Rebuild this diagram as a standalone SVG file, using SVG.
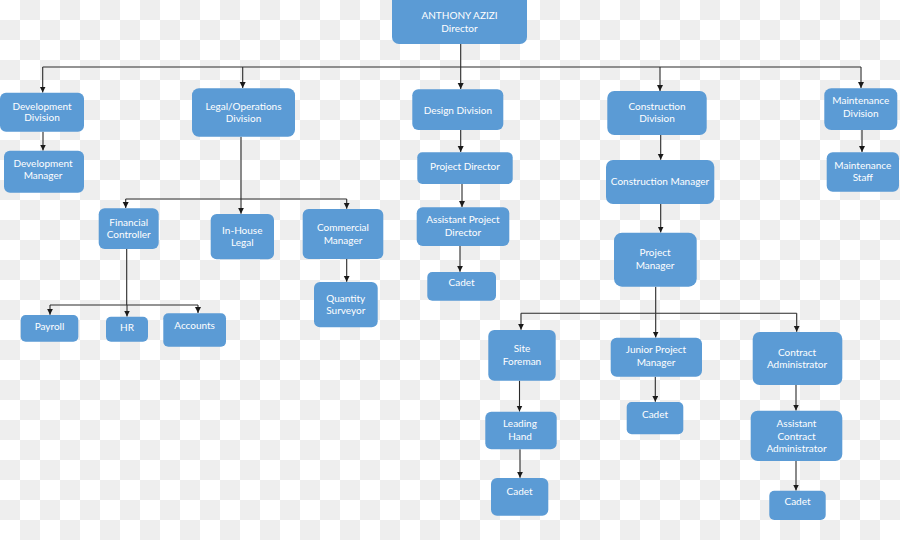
<svg xmlns="http://www.w3.org/2000/svg" width="900" height="540" viewBox="0 0 900 540">
<defs>
<pattern id="chk" width="40" height="40" patternUnits="userSpaceOnUse">
<rect width="40" height="40" fill="#ffffff"/>
<rect x="20" y="0" width="20" height="20" fill="#eeeeee"/>
<rect x="0" y="20" width="20" height="20" fill="#eeeeee"/>
</pattern>
<marker id="ah" markerUnits="userSpaceOnUse" markerWidth="7" markerHeight="7" refX="6" refY="3" orient="auto">
<path d="M0,0 L6,3 L0,6 z" fill="#1a1a1a"/>
</marker>
<style>
.b{fill:#5b9bd5;}
.t{fill:#ffffff;font-family:Lato,"Liberation Sans",sans-serif;font-size:10px;text-anchor:middle;}
.l{fill:none;stroke:#2a2a2a;stroke-width:1.1;}
.a{fill:none;stroke:#2a2a2a;stroke-width:1.1;marker-end:url(#ah);}
</style>
</defs>
<rect width="900" height="540" fill="url(#chk)"/>
<g id="connectors">
<path class="l" d="M42.7 67 H861"/>
<path class="a" d="M460.7 44 V89"/>
<path class="a" d="M42.7 67 V92.5"/>
<path class="a" d="M242.7 67 V88"/>
<path class="a" d="M660 67 V91"/>
<path class="a" d="M861 67 V88"/>
<path class="a" d="M43 131.7 V150.5"/>
<path class="l" d="M241 136.7 V199 M125.7 199 H346.7"/>
<path class="a" d="M125.7 199 V208"/>
<path class="a" d="M241 199 V213.8"/>
<path class="a" d="M346.7 199 V208.8"/>
<path class="a" d="M346.7 259 V281.8"/>
<path class="l" d="M126.7 249 V305 M50 305 H198"/>
<path class="a" d="M50 305 V314.8"/>
<path class="a" d="M127 305 V316.5"/>
<path class="a" d="M198 305 V313"/>
<path class="a" d="M460.7 130 V152"/>
<path class="a" d="M462 184 V207"/>
<path class="a" d="M460 246 V271.8"/>
<path class="a" d="M660.7 135 V159.8"/>
<path class="a" d="M660.7 204 V232.5"/>
<path class="l" d="M655.7 286.7 V313.3 M521 313.3 H796.7"/>
<path class="a" d="M521 313.3 V329.8"/>
<path class="a" d="M655.7 313.3 V337.5"/>
<path class="a" d="M796.7 313.3 V331.8"/>
<path class="a" d="M519.5 380.7 V411.5"/>
<path class="a" d="M520 449.3 V477.8"/>
<path class="a" d="M655.3 376.7 V401.8"/>
<path class="a" d="M796 385 V410.5"/>
<path class="a" d="M796 461 V490.5"/>
<path class="a" d="M862 130 V152"/>
</g>
<g id="director"><rect class="b" x="392" y="-6" width="135" height="50" rx="7"/><text class="t" x="459.5" y="19.1">ANTHONY AZIZI</text><text class="t" x="459.5" y="31.5">Director</text></g>
<g id="development-division"><rect class="b" x="0" y="92.7" width="84" height="39" rx="6"/><text class="t" x="42" y="109.5">Development</text><text class="t" x="42" y="121.2">Division</text></g>
<g id="development-manager"><rect class="b" x="4" y="150.7" width="80" height="42" rx="6"/><text class="t" x="43" y="166.5">Development</text><text class="t" x="43" y="178.5">Manager</text></g>
<g id="legal-operations-division"><rect class="b" x="192" y="88.3" width="103" height="48.4" rx="7"/><text class="t" x="243.5" y="109.5">Legal/Operations</text><text class="t" x="243.5" y="122.2">Division</text></g>
<g id="financial-controller"><rect class="b" x="98.7" y="208.3" width="60" height="40.7" rx="6"/><text class="t" x="128.7" y="225.5">Financial</text><text class="t" x="128.7" y="237.8">Controller</text></g>
<g id="in-house-legal"><rect class="b" x="210.7" y="214" width="63.3" height="45.3" rx="6"/><text class="t" x="242.3" y="233.5">In-House</text><text class="t" x="242.3" y="246.2">Legal</text></g>
<g id="commercial-manager"><rect class="b" x="302.7" y="209" width="80.6" height="50" rx="6"/><text class="t" x="343" y="231.2">Commercial</text><text class="t" x="343" y="243.5">Manager</text></g>
<g id="quantity-surveyor"><rect class="b" x="314" y="282" width="63.7" height="45.3" rx="6"/><text class="t" x="345.8" y="301.8">Quantity</text><text class="t" x="345.8" y="314.2">Surveyor</text></g>
<g id="payroll"><rect class="b" x="20.7" y="315" width="57.6" height="26.7" rx="5"/><text class="t" x="49.5" y="329.5">Payroll</text></g>
<g id="hr"><rect class="b" x="106" y="316.7" width="42" height="25" rx="5"/><text class="t" x="127" y="330.8">HR</text></g>
<g id="accounts"><rect class="b" x="163.3" y="313.3" width="62.7" height="33.4" rx="5"/><text class="t" x="194.6" y="329.2">Accounts</text></g>
<g id="design-division"><rect class="b" x="412.3" y="89.3" width="91" height="40.7" rx="6"/><text class="t" x="457.8" y="113.5">Design Division</text></g>
<g id="project-director"><rect class="b" x="417.3" y="152.3" width="95.4" height="31.7" rx="5"/><text class="t" x="465" y="170.2">Project Director</text></g>
<g id="assistant-project-director"><rect class="b" x="416.7" y="207.3" width="92.6" height="38.7" rx="6"/><text class="t" x="463" y="222.8">Assistant Project</text><text class="t" x="463" y="235.5">Director</text></g>
<g id="design-cadet"><rect class="b" x="427.3" y="272" width="68.7" height="28.7" rx="5"/><text class="t" x="461.6" y="286.2">Cadet</text></g>
<g id="construction-division"><rect class="b" x="607.3" y="91" width="99.4" height="44" rx="7"/><text class="t" x="657" y="109.8">Construction</text><text class="t" x="657" y="122.2">Division</text></g>
<g id="construction-manager"><rect class="b" x="606" y="160" width="108.3" height="44" rx="7"/><text class="t" x="660" y="184.5">Construction Manager</text></g>
<g id="project-manager"><rect class="b" x="614" y="232.7" width="82.7" height="54" rx="8"/><text class="t" x="655" y="256.2">Project</text><text class="t" x="655" y="268.5">Manager</text></g>
<g id="site-foreman"><rect class="b" x="488.3" y="330" width="67.4" height="50.7" rx="6"/><text class="t" x="522" y="351.8">Site</text><text class="t" x="522" y="364.5">Foreman</text></g>
<g id="junior-project-manager"><rect class="b" x="610.7" y="337.7" width="91.3" height="39" rx="6"/><text class="t" x="656" y="352.8">Junior Project</text><text class="t" x="656" y="365.5">Manager</text></g>
<g id="contract-administrator"><rect class="b" x="752.7" y="332" width="89.6" height="53" rx="7"/><text class="t" x="797" y="355.5">Contract</text><text class="t" x="797" y="367.8">Administrator</text></g>
<g id="leading-hand"><rect class="b" x="485.3" y="411.7" width="71.4" height="37.6" rx="6"/><text class="t" x="520" y="426.8">Leading</text><text class="t" x="520" y="439.5">Hand</text></g>
<g id="site-cadet"><rect class="b" x="491" y="478" width="57.3" height="37.7" rx="6"/><text class="t" x="519.6" y="495.2">Cadet</text></g>
<g id="junior-cadet"><rect class="b" x="626.7" y="402" width="56.6" height="32.3" rx="5"/><text class="t" x="655" y="418.2">Cadet</text></g>
<g id="assistant-contract-administrator"><rect class="b" x="750.7" y="410.7" width="91.6" height="50.3" rx="7"/><text class="t" x="796.5" y="427.2">Assistant</text><text class="t" x="796.5" y="439.5">Contract</text><text class="t" x="796.5" y="452.2">Administrator</text></g>
<g id="contract-cadet"><rect class="b" x="769.3" y="490.7" width="56.4" height="29.3" rx="5"/><text class="t" x="797.5" y="505.2">Cadet</text></g>
<g id="maintenance-division"><rect class="b" x="824.3" y="88.3" width="73" height="41.7" rx="7"/><text class="t" x="860.8" y="104.2">Maintenance</text><text class="t" x="860.8" y="117.2">Division</text></g>
<g id="maintenance-staff"><rect class="b" x="826.7" y="152.3" width="72.3" height="39.4" rx="6"/><text class="t" x="862.8" y="168.5">Maintenance</text><text class="t" x="862.8" y="181.2">Staff</text></g>
</svg>
